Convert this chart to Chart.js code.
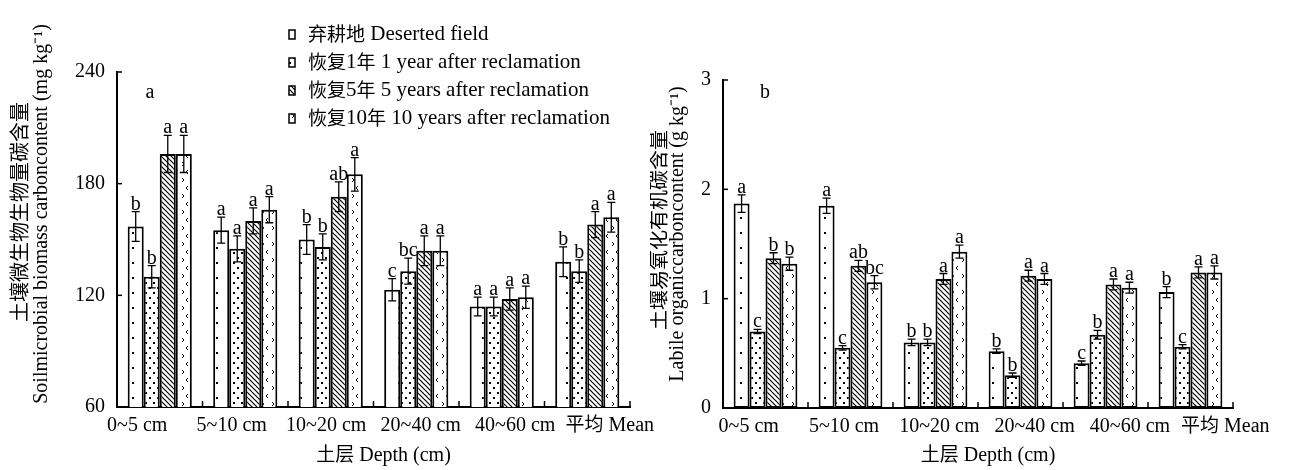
<!DOCTYPE html>
<html>
<head>
<meta charset="utf-8">
<script src="https://cdn.jsdelivr.net/npm/chart.js@4"></script>
<style>
  body { margin: 0; background: #fff; }
  #wrap { position: relative; width: 1292px; height: 470px; background: #fff; }
  canvas { position: absolute; top: 0; }
  #left { left: 0; }
  #right { left: 650px; }
</style>
</head>
<body>
<div id="wrap">
  <canvas id="left" width="670" height="470"></canvas>
  <canvas id="right" width="642" height="470"></canvas>
</div>
<script>
// categories
const depths = ['0~5 cm', '5~10 cm', '10~20 cm', '20~40 cm', '40~60 cm', '平均 Mean'];
const treatments = [
    '弃耕地 Deserted field',
    '恢复1年 1 year after reclamation',
    '恢复5年 5 years after reclamation',
    '恢复10年 10 years after reclamation'
];

// (a) soil microbial biomass carbon, mg kg-1
const mbcDeserted = [157, 155, 150, 123, 114, 138];
const mbcYear1 = [130, 145, 146, 133, 114, 133];
const mbcYear5 = [196, 160, 173, 144, 118, 158];
const mbcYear10 = [196, 166, 185, 144, 119, 162];
const mbcErr = [
    [8, 7, 8, 6, 5, 8],
    [6, 7, 7, 7, 5, 6],
    [10, 7, 8, 8, 6, 7],
    [10, 7, 9, 8, 6, 8]
];
const mbcLetters = [
    ['b', 'a', 'b', 'c', 'a', 'b'],
    ['b', 'a', 'b', 'bc', 'a', 'b'],
    ['a', 'a', 'ab', 'a', 'a', 'a'],
    ['a', 'a', 'a', 'a', 'a', 'a']
];
const mbcTicks = [60, 120, 180, 240];

// (b) labile organic carbon, g kg-1
const locDeserted = [1.87, 1.85, 0.60, 0.52, 0.41, 1.06];
const locYear1 = [0.70, 0.55, 0.60, 0.30, 0.67, 0.56];
const locYear5 = [1.37, 1.30, 1.18, 1.21, 1.13, 1.24];
const locYear10 = [1.32, 1.15, 1.43, 1.18, 1.10, 1.24];
const locErr = [
    [0.08, 0.07, 0.03, 0.02, 0.02, 0.05],
    [0.02, 0.02, 0.03, 0.02, 0.04, 0.02],
    [0.05, 0.05, 0.05, 0.05, 0.05, 0.05],
    [0.06, 0.06, 0.06, 0.05, 0.05, 0.06]
];
const locLetters = [
    ['a', 'a', 'b', 'b', 'c', 'b'],
    ['c', 'c', 'b', 'b', 'b', 'c'],
    ['b', 'ab', 'a', 'a', 'a', 'a'],
    ['b', 'bc', 'a', 'a', 'a', 'a']
];
const locTicks = [0, 1, 2, 3];

const LATIN = '"Liberation Serif", "Times New Roman", serif';
const CJK = '"Noto Sans CJK SC", sans-serif';
const CJK_RE = /[\u3400-\u9fff]/;

// draw text where Chinese runs get the CJK font
function drawMixed(ctx, text, x, y, align, size, cjkSize) {
    const parts = text.split(/([\u3400-\u9fff]+)/).filter(s => s.length);
    const fontOf = p => CJK_RE.test(p) ? cjkSize + 'px ' + CJK : size + 'px ' + LATIN;
    let total = 0;
    parts.forEach(p => { ctx.font = fontOf(p); total += ctx.measureText(p).width; });
    let cx = align === 'center' ? x - total / 2 : (align === 'right' ? x - total : x);
    ctx.textAlign = 'left';
    parts.forEach(p => {
        ctx.font = fontOf(p);
        ctx.fillText(p, cx, y);
        cx += ctx.measureText(p).width;
    });
}

function vText(ctx, text, x, y, size, cjkSize) {
    ctx.save();
    ctx.translate(x, y);
    ctx.rotate(-Math.PI / 2);
    ctx.textBaseline = 'middle';
    drawMixed(ctx, text, 0, 0, 'center', size, cjkSize);
    ctx.restore();
}

// fill patterns
function makePattern(kind) {
    const c = document.createElement('canvas');
    const sizes = { sparse: [14, 15], dense: [8, 10], hatch: [5, 5], chevron: [10, 16] };
    c.width = sizes[kind][0];
    c.height = sizes[kind][1];
    const g = c.getContext('2d');
    g.fillStyle = '#fff';
    g.fillRect(0, 0, c.width, c.height);
    g.fillStyle = '#000';
    g.strokeStyle = '#000';
    if (kind === 'sparse') {
        g.fillRect(6, 7, 2, 2);
    } else if (kind === 'dense') {
        g.fillRect(1, 2, 2, 2);
        g.fillRect(5, 7, 2, 2);
    } else if (kind === 'hatch') {
        g.lineWidth = 1.2;
        g.beginPath();
        g.moveTo(-1, -1); g.lineTo(6, 6);
        g.moveTo(-1, 4); g.lineTo(1, 6);
        g.moveTo(4, -1); g.lineTo(6, 1);
        g.stroke();
    } else {
        g.lineWidth = 1;
        g.beginPath();
        g.moveTo(2, 2); g.lineTo(4, 4); g.lineTo(2, 6);
        g.moveTo(8, 10); g.lineTo(6, 12); g.lineTo(8, 14);
        g.stroke();
    }
    return g.createPattern(c, 'repeat');
}
const fills = ['sparse', 'dense', 'hatch', 'chevron'].map(makePattern);

function makeDecor(extra) {
    return {
        id: 'decor',
        afterDraw(chart) {
            const { ctx, chartArea: a, scales: { x, y } } = chart;
            ctx.save();
            ctx.strokeStyle = '#000';
            ctx.fillStyle = '#000';

            // inward ticks on y
            ctx.lineWidth = 1.5;
            y.ticks.forEach(t => {
                const py = y.getPixelForValue(t.value);
                ctx.beginPath();
                ctx.moveTo(a.left, py);
                ctx.lineTo(a.left + 5, py);
                ctx.stroke();
            });
            // upward ticks between groups
            const step = x.getPixelForValue(1) - x.getPixelForValue(0);
            for (let i = 1; i <= depths.length; i++) {
                const px = x.getPixelForValue(i) - step / 2;
                ctx.beginPath();
                ctx.moveTo(px, a.bottom);
                ctx.lineTo(px, a.bottom - 6);
                ctx.stroke();
            }

            // category labels
            ctx.textBaseline = 'alphabetic';
            const mid = (depths.length - 1) / 2;
            depths.forEach((d, i) => {
                const px = x.getPixelForValue(i) + extra.labelSpread * (i - mid) + extra.labelShift;
                drawMixed(ctx, d, px, a.bottom + 24, 'center', 20, 19);
            });

            // error bars and letters
            ctx.lineWidth = 1.3;
            chart.data.datasets.forEach((ds, di) => {
                const meta = chart.getDatasetMeta(di);
                meta.data.forEach((bar, i) => {
                    const v = ds.data[i];
                    const e = extra.errs[di][i];
                    const top = y.getPixelForValue(v + e);
                    const bot = y.getPixelForValue(v - e);
                    const bx = bar.x;
                    ctx.beginPath();
                    ctx.moveTo(bx, top); ctx.lineTo(bx, bot);
                    ctx.moveTo(bx - 4, top); ctx.lineTo(bx + 4, top);
                    ctx.moveTo(bx - 4, bot); ctx.lineTo(bx + 4, bot);
                    ctx.stroke();
                    ctx.font = '20px ' + LATIN;
                    ctx.textAlign = 'center';
                    ctx.fillText(extra.letters[di][i], bx, top - 2);
                });
            });

            // panel letter
            ctx.font = '20px ' + LATIN;
            ctx.textAlign = 'center';
            ctx.textBaseline = 'middle';
            ctx.fillText(extra.panel, a.left + extra.panelDx, 93);

            // axis titles
            ctx.textBaseline = 'alphabetic';
            drawMixed(ctx, '土层 Depth (cm)', (a.left + a.right) / 2 + extra.xTitleDx, 461, 'center', 20, 19);
            vText(ctx, extra.yTitle[0], a.left + extra.yTitleDx[0], extra.yTitleY[0], 20, 20);
            vText(ctx, extra.yTitle[1], a.left + extra.yTitleDx[1], extra.yTitleY[1], 20, 20);

            // legend
            if (extra.legend) {
                ctx.textBaseline = 'middle';
                treatments.forEach((t, i) => {
                    const ly = 34 + i * 28;
                    ctx.fillStyle = fills[i];
                    ctx.fillRect(289, ly - 4, 6, 9);
                    ctx.lineWidth = 1.5;
                    ctx.strokeRect(289, ly - 4, 6, 9);
                    ctx.fillStyle = '#000';
                    drawMixed(ctx, t, 308, ly, 'left', 21, 19);
                });
            }
            ctx.restore();
        }
    };
}

function buildChart(id, series, ticks, extra, layout) {
    const config = {
        type: 'bar',
        data: {
            labels: depths,
            datasets: series.map((s, i) => ({
                label: treatments[i],
                data: s,
                backgroundColor: fills[i],
                borderColor: '#000',
                borderWidth: 2,
                borderSkipped: false,
                categoryPercentage: 0.75,
                barPercentage: 1
            }))
        },
        options: {
            responsive: false,
            animation: false,
            devicePixelRatio: 1,
            layout: { padding: { top: layout.top, right: layout.right, bottom: 0, left: 0 } },
            plugins: { legend: { display: false }, tooltip: { enabled: false } },
            scales: {
                x: {
                    grid: { display: false },
                    border: { display: true, color: '#000', width: 2 },
                    ticks: { display: false },
                    afterFit: s => { s.height = layout.xHeight; }
                },
                y: {
                    min: ticks[0],
                    max: ticks[ticks.length - 1],
                    grid: { display: false },
                    border: { display: true, color: '#000', width: 2 },
                    afterBuildTicks: s => { s.ticks = ticks.map(v => ({ value: v })); },
                    ticks: {
                        color: '#000',
                        padding: 4,
                        font: { family: LATIN, size: 20 }
                    },
                    afterFit: s => { s.width = layout.yWidth; }
                }
            }
        },
        plugins: [makeDecor(extra)]
    };
    return new Chart(document.getElementById(id), config);
}

buildChart('left', [mbcDeserted, mbcYear1, mbcYear5, mbcYear10], mbcTicks, {
    errs: mbcErr,
    letters: mbcLetters,
    panel: 'a',
    panelDx: 33,
    labelSpread: 9.0,
    labelShift: 0,
    xTitleDx: 10,
    yTitle: ['土壤微生物生物量碳含量', 'Soilmicrobial biomass carboncontent (mg kg⁻¹)'],
    yTitleDx: [-98, -75],
    yTitleY: [212, 214],
    legend: true
}, { top: 72, right: 40, xHeight: 63, yWidth: 117 });

buildChart('right', [locDeserted, locYear1, locYear5, locYear10], locTicks, {
    errs: locErr,
    letters: locLetters,
    panel: 'b',
    panelDx: 42,
    labelSpread: 10.3,
    labelShift: 9,
    xTitleDx: 10,
    yTitle: ['土壤易氧化有机碳含量', 'Labile organiccarboncontent (g kg⁻¹)'],
    yTitleDx: [-65, -45],
    yTitleY: [230, 234],
    legend: false
}, { top: 80, right: 59, xHeight: 62, yWidth: 73 });
</script>
</body>
</html>
